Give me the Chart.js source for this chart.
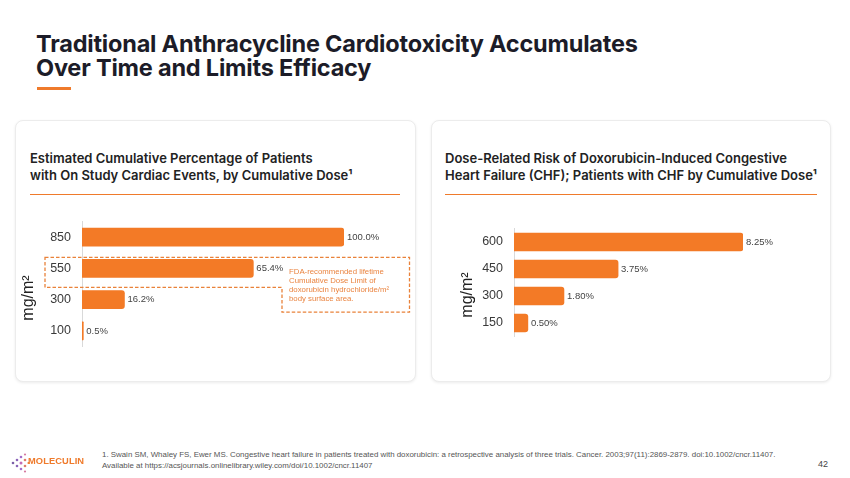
<!DOCTYPE html>
<html>
<head>
<meta charset="utf-8">
<script src="https://cdn.jsdelivr.net/npm/chart.js@4.4.0/dist/chart.umd.min.js"></script>
<style>
  body { margin: 0; background: #fff; font-family: Inter, Roboto, sans-serif; }
  .page { position: relative; width: 850px; height: 478px; overflow: hidden; background: #fff; }
  .title { position: absolute; left: 36px; top: 32px; font-size: 23.5px; font-weight: 700; line-height: 24px; color: #1c1c28; letter-spacing: -0.2px; }
  .title-bar { position: absolute; left: 37px; top: 87px; width: 34px; height: 3px; background: #ef7a2b; }
  .card { position: absolute; top: 120px; height: 260px; background: #fff; border: 1px solid #ececec; border-radius: 8px; box-shadow: 0 1px 3px rgba(0,0,0,0.08); }
  .card-title { position: absolute; font-size: 13px; font-weight: 600; line-height: 17px; color: #222; }
  .card-rule { position: absolute; top: 193.5px; height: 1.2px; background: #ef7a2b; }
  .unit { position: absolute; font-family: "Liberation Sans", Arial, sans-serif; font-size: 16px; color: #222; transform: rotate(-90deg); transform-origin: center center; white-space: nowrap; width: 60px; text-align: center; line-height: 18px; }
  canvas { position: absolute; }
  .foot { position: absolute; left: 102px; top: 449px; font-family: "Liberation Sans", Arial, sans-serif; font-size: 7.9px; line-height: 11px; color: #555; }
  .pageno { position: absolute; left: 818px; top: 459px; font-family: "Liberation Sans", Arial, sans-serif; font-size: 9px; color: #444; }
  .logo { position: absolute; left: 10px; top: 452px; }
  .logo-text { position: absolute; left: 28px; top: 456px; font-family: "Liberation Sans", Arial, sans-serif; font-weight: 700; font-size: 9.3px; color: #ef7a2b; letter-spacing: 0.1px; }
</style>
</head>
<body>
<div class="page">
  <div class="title">Traditional Anthracycline Cardiotoxicity Accumulates<br>Over Time and Limits Efficacy</div>
  <div class="title-bar"></div>

  <div class="card" style="left:15px; width:399px;"></div>
  <div class="card" style="left:431px; width:398px;"></div>

  <div class="card-title" style="left:30px; top:150px;">Estimated Cumulative Percentage of Patients<br>with On Study Cardiac Events, by Cumulative Dose¹</div>
  <div class="card-rule" style="left:30px; width:370px;"></div>

  <div class="card-title" style="left:445px; top:150px;">Dose-Related Risk of Doxorubicin-Induced Congestive<br>Heart Failure (CHF); Patients with CHF by Cumulative Dose¹</div>
  <div class="card-rule" style="left:445px; width:372px;"></div>

  <canvas id="leftChart" width="398" height="140" style="left:15px; top:212px;"></canvas>
  <canvas id="rightChart" width="398" height="140" style="left:431px; top:212px;"></canvas>

  <div class="unit" style="left:-2px; top:289px;">mg/m²</div>
  <div class="unit" style="left:437px; top:286px;">mg/m²</div>

  <svg class="logo" width="20" height="22" viewBox="0 0 20 22">
    <circle cx="3" cy="11" r="1.3" fill="#7b5ea7"/>
    <circle cx="7" cy="8" r="1.3" fill="#8a63b8"/>
    <circle cx="7" cy="14" r="1.3" fill="#8a63b8"/>
    <circle cx="11" cy="5" r="1.3" fill="#a46bc9"/>
    <circle cx="11" cy="11" r="1.5" fill="#c46bb5"/>
    <circle cx="11" cy="17" r="1.3" fill="#a46bc9"/>
    <circle cx="15" cy="2.5" r="1.1" fill="#d57aa0"/>
    <circle cx="15" cy="8" r="1.3" fill="#e07a6a"/>
    <circle cx="15" cy="14" r="1.3" fill="#e07a6a"/>
    <circle cx="15" cy="19.5" r="1.1" fill="#d57aa0"/>
    <circle cx="18.5" cy="11" r="1.1" fill="#ef7a2b"/>
  </svg>
  <div class="logo-text">MOLECULIN</div>

  <div class="foot">1. Swain SM, Whaley FS, Ewer MS. Congestive heart failure in patients treated with doxorubicin: a retrospective analysis of three trials. Cancer. 2003;97(11):2869-2879. doi:10.1002/cncr.11407.<br>Available at https://acsjournals.onlinelibrary.wiley.com/doi/10.1002/cncr.11407</div>
  <div class="pageno">42</div>
</div>

<script>
const leftDoses = ["850", "550", "300", "100"];
const leftPercent = [100.0, 65.4, 16.2, 0.5];
const leftLabels = ["100.0%", "65.4%", "16.2%", "0.5%"];

const rightDoses = ["600", "450", "300", "150"];
const rightPercent = [8.25, 3.75, 1.80, 0.50];
const rightLabels = ["8.25%", "3.75%", "1.80%", "0.50%"];

const fdaNote = ["FDA-recommended lifetime", "Cumulative Dose Limit of", "doxorubicin hydrochloride/m²", "body surface area."];

const barOrange = "#f37a26";

// value text at the end of each bar
const valueLabels = {
    id: "valueLabels",
    afterDatasetsDraw(chart, args, opts) {
        const ctx = chart.ctx;
        const meta = chart.getDatasetMeta(0);
        ctx.save();
        ctx.font = "9.5px 'Liberation Sans', Arial, sans-serif";
        ctx.fillStyle = "#444";
        ctx.textBaseline = "middle";
        ctx.textAlign = "left";
        meta.data.forEach((bar, i) => {
            ctx.fillText(opts.labels[i], bar.x + opts.gap, bar.y);
        });
        ctx.restore();
    }
};

// dashed box around the 550 row
const fdaBox = {
    id: "fdaBox",
    afterDraw(chart) {
        if (chart.canvas.id !== "leftChart") return;
        const ctx = chart.ctx;
        const y = chart.scales.y;
        const area = chart.chartArea;
        const y550 = y.getPixelForValue(1);
        const y300 = y.getPixelForValue(2);

        const left = area.left - 37;
        const right = area.right + 65.5;
        const top = y550 - 11;
        const mid = y550 + 19;
        const bottom = y300 + 12.5;
        const step = area.left + 200;

        ctx.save();
        ctx.strokeStyle = "#e9823a";
        ctx.lineWidth = 1.3;
        ctx.setLineDash([3.5, 2]);
        ctx.beginPath();
        ctx.moveTo(left, top);
        ctx.lineTo(right, top);
        ctx.lineTo(right, bottom);
        ctx.lineTo(step, bottom);
        ctx.lineTo(step, mid);
        ctx.lineTo(left, mid);
        ctx.closePath();
        ctx.stroke();

        ctx.setLineDash([]);
        ctx.fillStyle = "#ea8440";
        ctx.font = "7.8px 'Liberation Sans', Arial, sans-serif";
        ctx.textBaseline = "middle";
        fdaNote.forEach((line, i) => {
            ctx.fillText(line, step + 7, top + 14 + i * 9.2);
        });
        ctx.restore();
    }
};

function makeChart(id, doses, values, labels, maxVal, axisWidth, padding) {
    return new Chart(document.getElementById(id), {
        type: "bar",
        data: {
            labels: doses,
            datasets: [{
                data: values,
                backgroundColor: barOrange,
                borderRadius: 3,
                borderSkipped: "start",
                barThickness: 18
            }]
        },
        options: {
            indexAxis: "y",
            responsive: false,
            animation: false,
            layout: { padding: padding },
            plugins: {
                legend: { display: false },
                tooltip: { enabled: false },
                valueLabels: { labels: labels, gap: 3 }
            },
            scales: {
                x: {
                    display: false,
                    min: 0,
                    max: maxVal
                },
                y: {
                    afterFit: (scale) => {
                        scale.width = axisWidth;
                        // keep label padding from eating the plot height
                        scale.paddingTop = 0;
                        scale.paddingBottom = 0;
                    },
                    grid: { display: false, drawTicks: false },
                    border: { display: true, color: "#d9d9d9", width: 1 },
                    ticks: {
                        padding: 11,
                        color: "#3a3a3a",
                        font: { family: "'Liberation Sans', Arial, sans-serif", size: 12.5 }
                    }
                }
            }
        },
        plugins: [valueLabels, fdaBox]
    });
}

makeChart("leftChart", leftDoses, leftPercent, leftLabels, 100, 67,
    { top: 9.5, bottom: 5.5, right: 69, left: 0 });
makeChart("rightChart", rightDoses, rightPercent, rightLabels, 8.25, 83,
    { top: 16.5, bottom: 15.5, right: 86, left: 0 });
</script>
</body>
</html>
